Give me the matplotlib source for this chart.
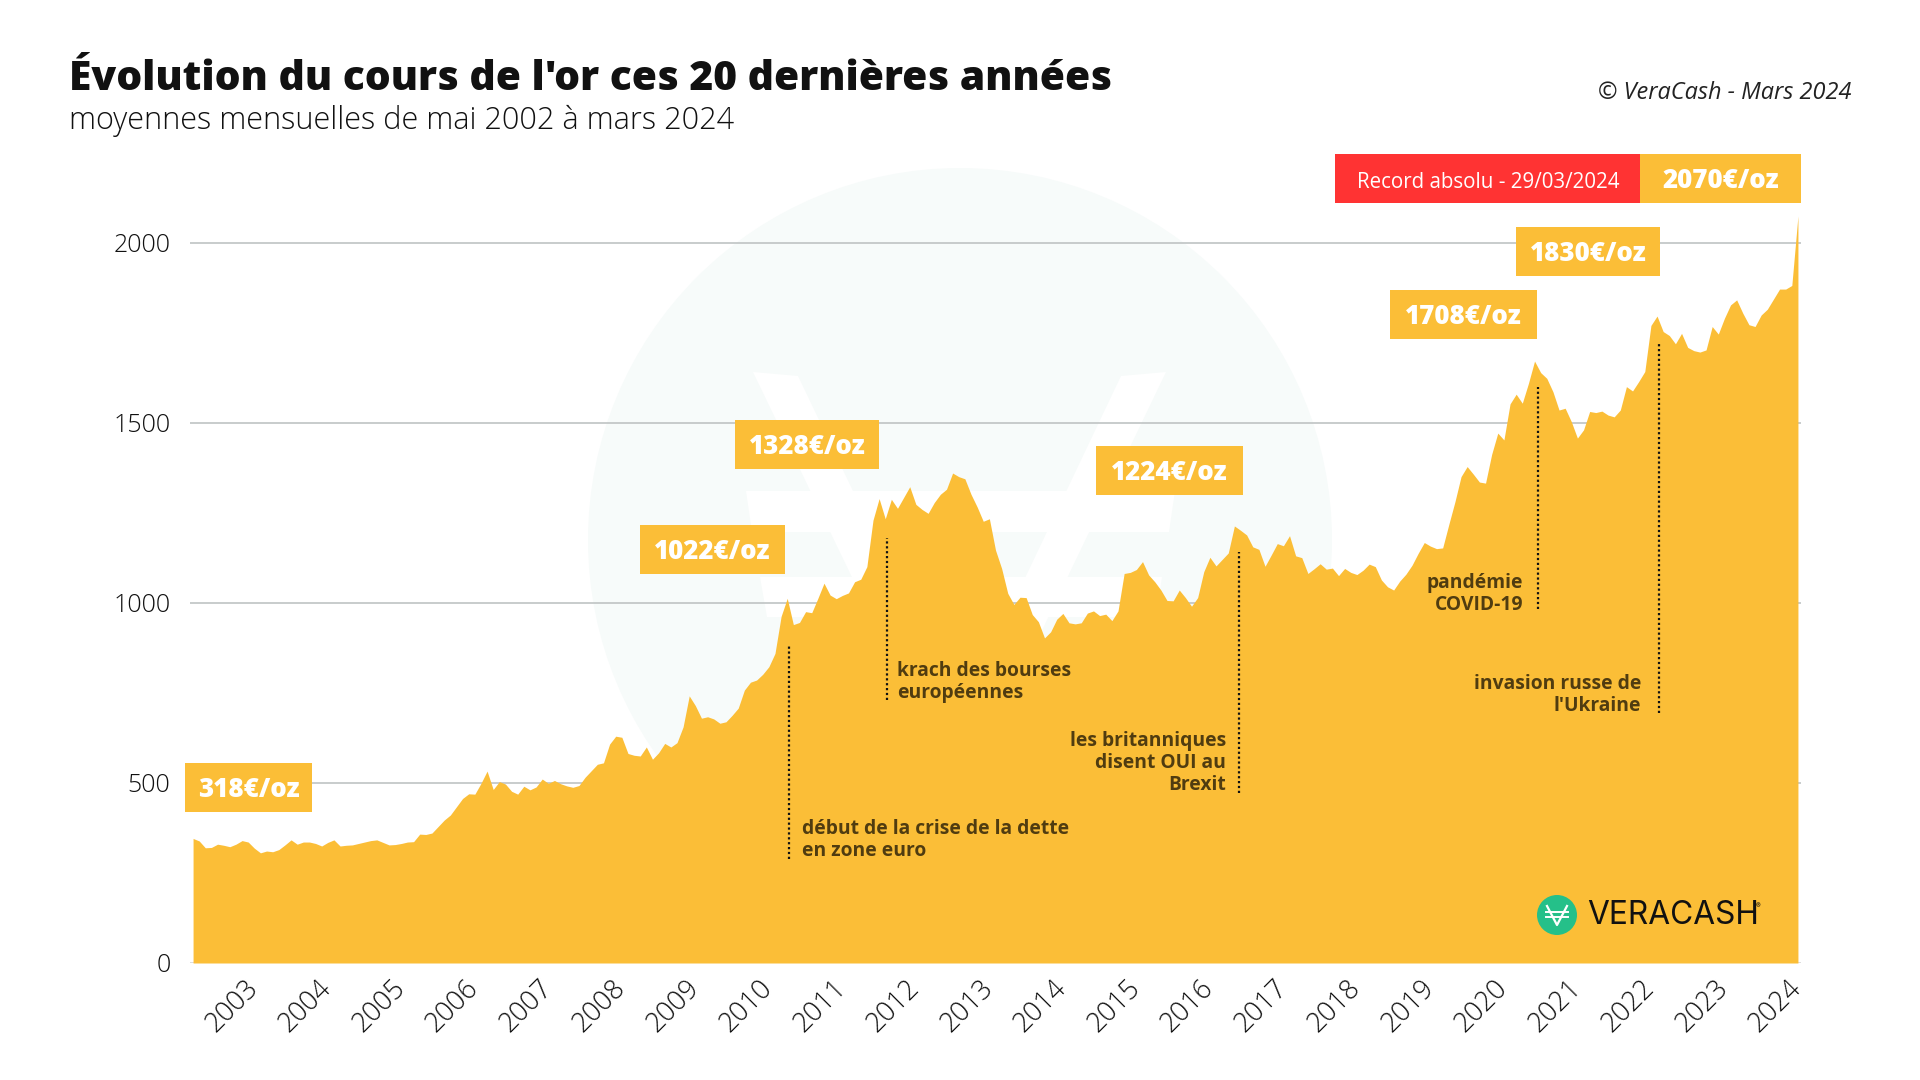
import matplotlib
matplotlib.use("Agg")
import matplotlib.pyplot as plt
from matplotlib.patches import Circle, Polygon, Rectangle
from matplotlib.transforms import ScaledTranslation

# cours moyen mensuel, mai 2002 -> mars 2024 (euros/oz)
prix = [
    346, 339, 320, 321, 330, 327, 323, 330, 340, 336, 319, 306, 311, 309, 315, 328,
    342, 330, 336, 336, 332, 325, 335, 342, 325, 327, 328, 332, 336, 340, 342, 335,
    328, 329, 332, 336, 337, 358, 357, 361, 379, 397, 411, 434, 457, 470, 469, 499,
    533, 482, 504, 497, 477, 469, 491, 481, 489, 511, 499, 507, 498, 492, 488, 493,
    516, 534, 552, 556, 608, 630, 627, 582, 577, 575, 600, 566, 584, 610, 600, 612,
    656, 742, 715, 680, 684, 678, 666, 670, 688, 708, 758, 780, 786, 802, 823, 860,
    963, 1013, 940, 946, 976, 973, 1013, 1055, 1022, 1012, 1021, 1028, 1059, 1066, 1101, 1230,
    1290, 1234, 1288, 1263, 1293, 1323, 1274, 1260, 1249, 1279, 1302, 1316, 1361, 1351, 1345, 1302,
    1267, 1227, 1234, 1147, 1096, 1027, 996, 1016, 1015, 968, 948, 903, 920, 955, 971, 945,
    942, 945, 972, 978, 965, 969, 951, 978, 1082, 1085, 1093, 1115, 1078, 1059, 1036, 1007,
    1006, 1036, 1015, 991, 1015, 1087, 1127, 1103, 1121, 1139, 1214, 1202, 1189, 1156, 1149, 1102,
    1133, 1165, 1159, 1187, 1131, 1126, 1082, 1095, 1109, 1094, 1097, 1076, 1096, 1085, 1079, 1091,
    1108, 1101, 1064, 1045, 1036, 1061, 1080, 1105, 1138, 1168, 1158, 1151, 1153, 1218, 1281, 1351,
    1379, 1358, 1336, 1333, 1413, 1472, 1453, 1553, 1580, 1555, 1610, 1672, 1640, 1624, 1587, 1536,
    1541, 1504, 1458, 1481, 1532, 1529, 1533, 1522, 1517, 1536, 1601, 1589, 1615, 1643, 1771, 1797,
    1754, 1743, 1720, 1749, 1710, 1701, 1697, 1703, 1768, 1747, 1791, 1828, 1842, 1805, 1773, 1768,
    1800, 1816, 1844, 1872, 1872, 1882, 2075,
]
annees = list(range(2003, 2025))
yticks = [0, 500, 1000, 1500, 2000]

# etiquettes de prix: texte, gauche, haut, droite, bas (px)
boites = [
    ("318€/oz", 185, 763, 312, 812),
    ("1022€/oz", 640, 525, 785, 574),
    ("1328€/oz", 735, 420, 879, 469),
    ("1224€/oz", 1096, 446, 1243, 495),
    ("1708€/oz", 1390, 290, 1537, 339),
    ("1830€/oz", 1516, 227, 1660, 276),
    ("2070€/oz", 1640, 154, 1801, 203),
]
# evenements: mois (index), haut, bas
evenements = [(97.3, 883, 289), (113.3, 1180, 731), (170.8, 1142, 472), (219.6, 1600, 983), (239.3, 1725, 694)]
notes = [
    ("début de la crise de la dette\nen zone euro", 802, 840, "left"),
    ("krach des bourses\neuropéennes", 897, 682, "left"),
    ("les britanniques\ndisent OUI au\nBrexit", 1226, 763, "right"),
    ("pandémie\nCOVID-19", 1523, 594, "right"),
    ("invasion russe de\nl'Ukraine", 1641, 695, "right"),
]

OR = "#fbbe37"
W, H = 1920, 1080
plt.rcParams["font.family"] = ["Open Sans", "DejaVu Sans"]

fig = plt.figure(figsize=(W / 100, H / 100), dpi=100, facecolor="white")
ax = fig.add_axes([190 / W, 1 - 963 / H, (1801 - 190) / W, (963 - 207) / H])
ax.set_facecolor("none")
ax.set_xlim(-0.5, len(prix) - 0.5)
ax.set_ylim(0, 2100)

def fx(x):
    return x / W

def fy(y):
    return 1 - y / H

# filigrane
bg = fig.add_axes([0, 0, 1, 1], zorder=-1)
bg.set_xlim(0, W)
bg.set_ylim(H, 0)
bg.axis("off")
bg.add_patch(Circle((960, 540), 372, color="#f7fbfa", lw=0))
bg.add_patch(Polygon([(753, 372), (798, 376), (960, 715), (1121, 376), (1166, 372), (960, 801)], color="white", lw=0))
bg.add_patch(Polygon([(746, 491), (1175, 491), (1169, 532), (752, 532)], color="white", lw=0))
bg.add_patch(Polygon([(760, 577), (1162, 577), (1156, 617), (767, 617)], color="white", lw=0))

x = list(range(len(prix)))
ax.fill_between(x, prix, 0, color=OR, lw=0, zorder=3)
for v in yticks[1:]:
    ax.axhline(v, color="#c4c8c8", lw=1.3, zorder=1)
ax.axhline(0, color="#555555", lw=1, zorder=1)

for s in ax.spines.values():
    s.set_visible(False)
ax.tick_params(length=0)
ax.set_yticks(yticks)
ax.set_yticklabels(yticks, fontsize=18, fontweight="light", color="#111111")
ax.tick_params(axis="y", pad=14)
ax.set_xticks([8 + 12 * i for i in range(len(annees))])
ax.set_xticklabels(annees, fontsize=19.5, fontweight="light", color="#111111", rotation=45, ha="center", va="top")
ax.tick_params(axis="x", pad=8)
dec = ScaledTranslation(-10 / 100, 0, fig.dpi_scale_trans)
for lab in ax.get_xticklabels():
    lab.set_transform(lab.get_transform() + dec)

for i, haut, bas in evenements:
    ax.plot([i, i], [bas, haut], color="#111111", lw=1.6, ls=(0, (1, 1.2)), zorder=4)

for t, x0, y0, ha in notes:
    fig.text(fx(x0), fy(y0), t, ha=ha, va="center", fontsize=13.9, fontweight="bold", color="#503c10", linespacing=1.13, zorder=5)

# boites de prix
fig.patches.append(Rectangle((fx(1335), fy(203)), (1640 - 1335) / W, 49 / H, transform=fig.transFigure, color="#ff3333", lw=0, zorder=5))
for t, g, h, d, b in boites:
    fig.patches.append(Rectangle((fx(g), fy(b)), (d - g) / W, (b - h) / H, transform=fig.transFigure, color=OR, lw=0, zorder=5))
    fig.text(fx((g + d) / 2), fy((h + b) / 2 + 2.5), t, ha="center", va="center", fontsize=18.6, fontweight="extra bold", color="white", zorder=6)
fig.text(fx(1488), fy(182), "Record absolu - 29/03/2024", ha="center", va="center", fontsize=14.8, color="white", zorder=6)

# titres
fig.text(fx(69), fy(90), "Évolution du cours de l'or ces 20 dernières années", fontsize=29.32, fontweight="extra bold", color="#111111", va="baseline")
fig.text(fx(69), fy(129), "moyennes mensuelles de mai 2002 à mars 2024", fontsize=22.05, fontweight="light", color="#111111", va="baseline")
fig.text(fx(1861 - 10), fy(93), "© VeraCash - Mars 2024", fontsize=16.9, style="italic", color="#222222", ha="right", va="center")

# logo
bg2 = fig.add_axes([0, 0, 1, 1], zorder=8)
bg2.set_xlim(0, W)
bg2.set_ylim(H, 0)
bg2.axis("off")
bg2.add_patch(Circle((1557, 915), 20, color="#25c089", lw=0))
bg2.plot([1547, 1557, 1567], [906, 925, 906], color="white", lw=1.6)
bg2.plot([1546, 1568], [912, 912], color="white", lw=1.4)
bg2.plot([1546, 1568], [917, 917], color="white", lw=1.4)
bg2.text(1587, 916, "VERACASH", family="Inter", fontsize=22.8, color="#111111", va="center", ha="left")
bg2.text(1756, 906, "®", family="Inter", fontsize=5, color="#111111", va="center", ha="left")

fig.savefig("out.png", dpi=100)
